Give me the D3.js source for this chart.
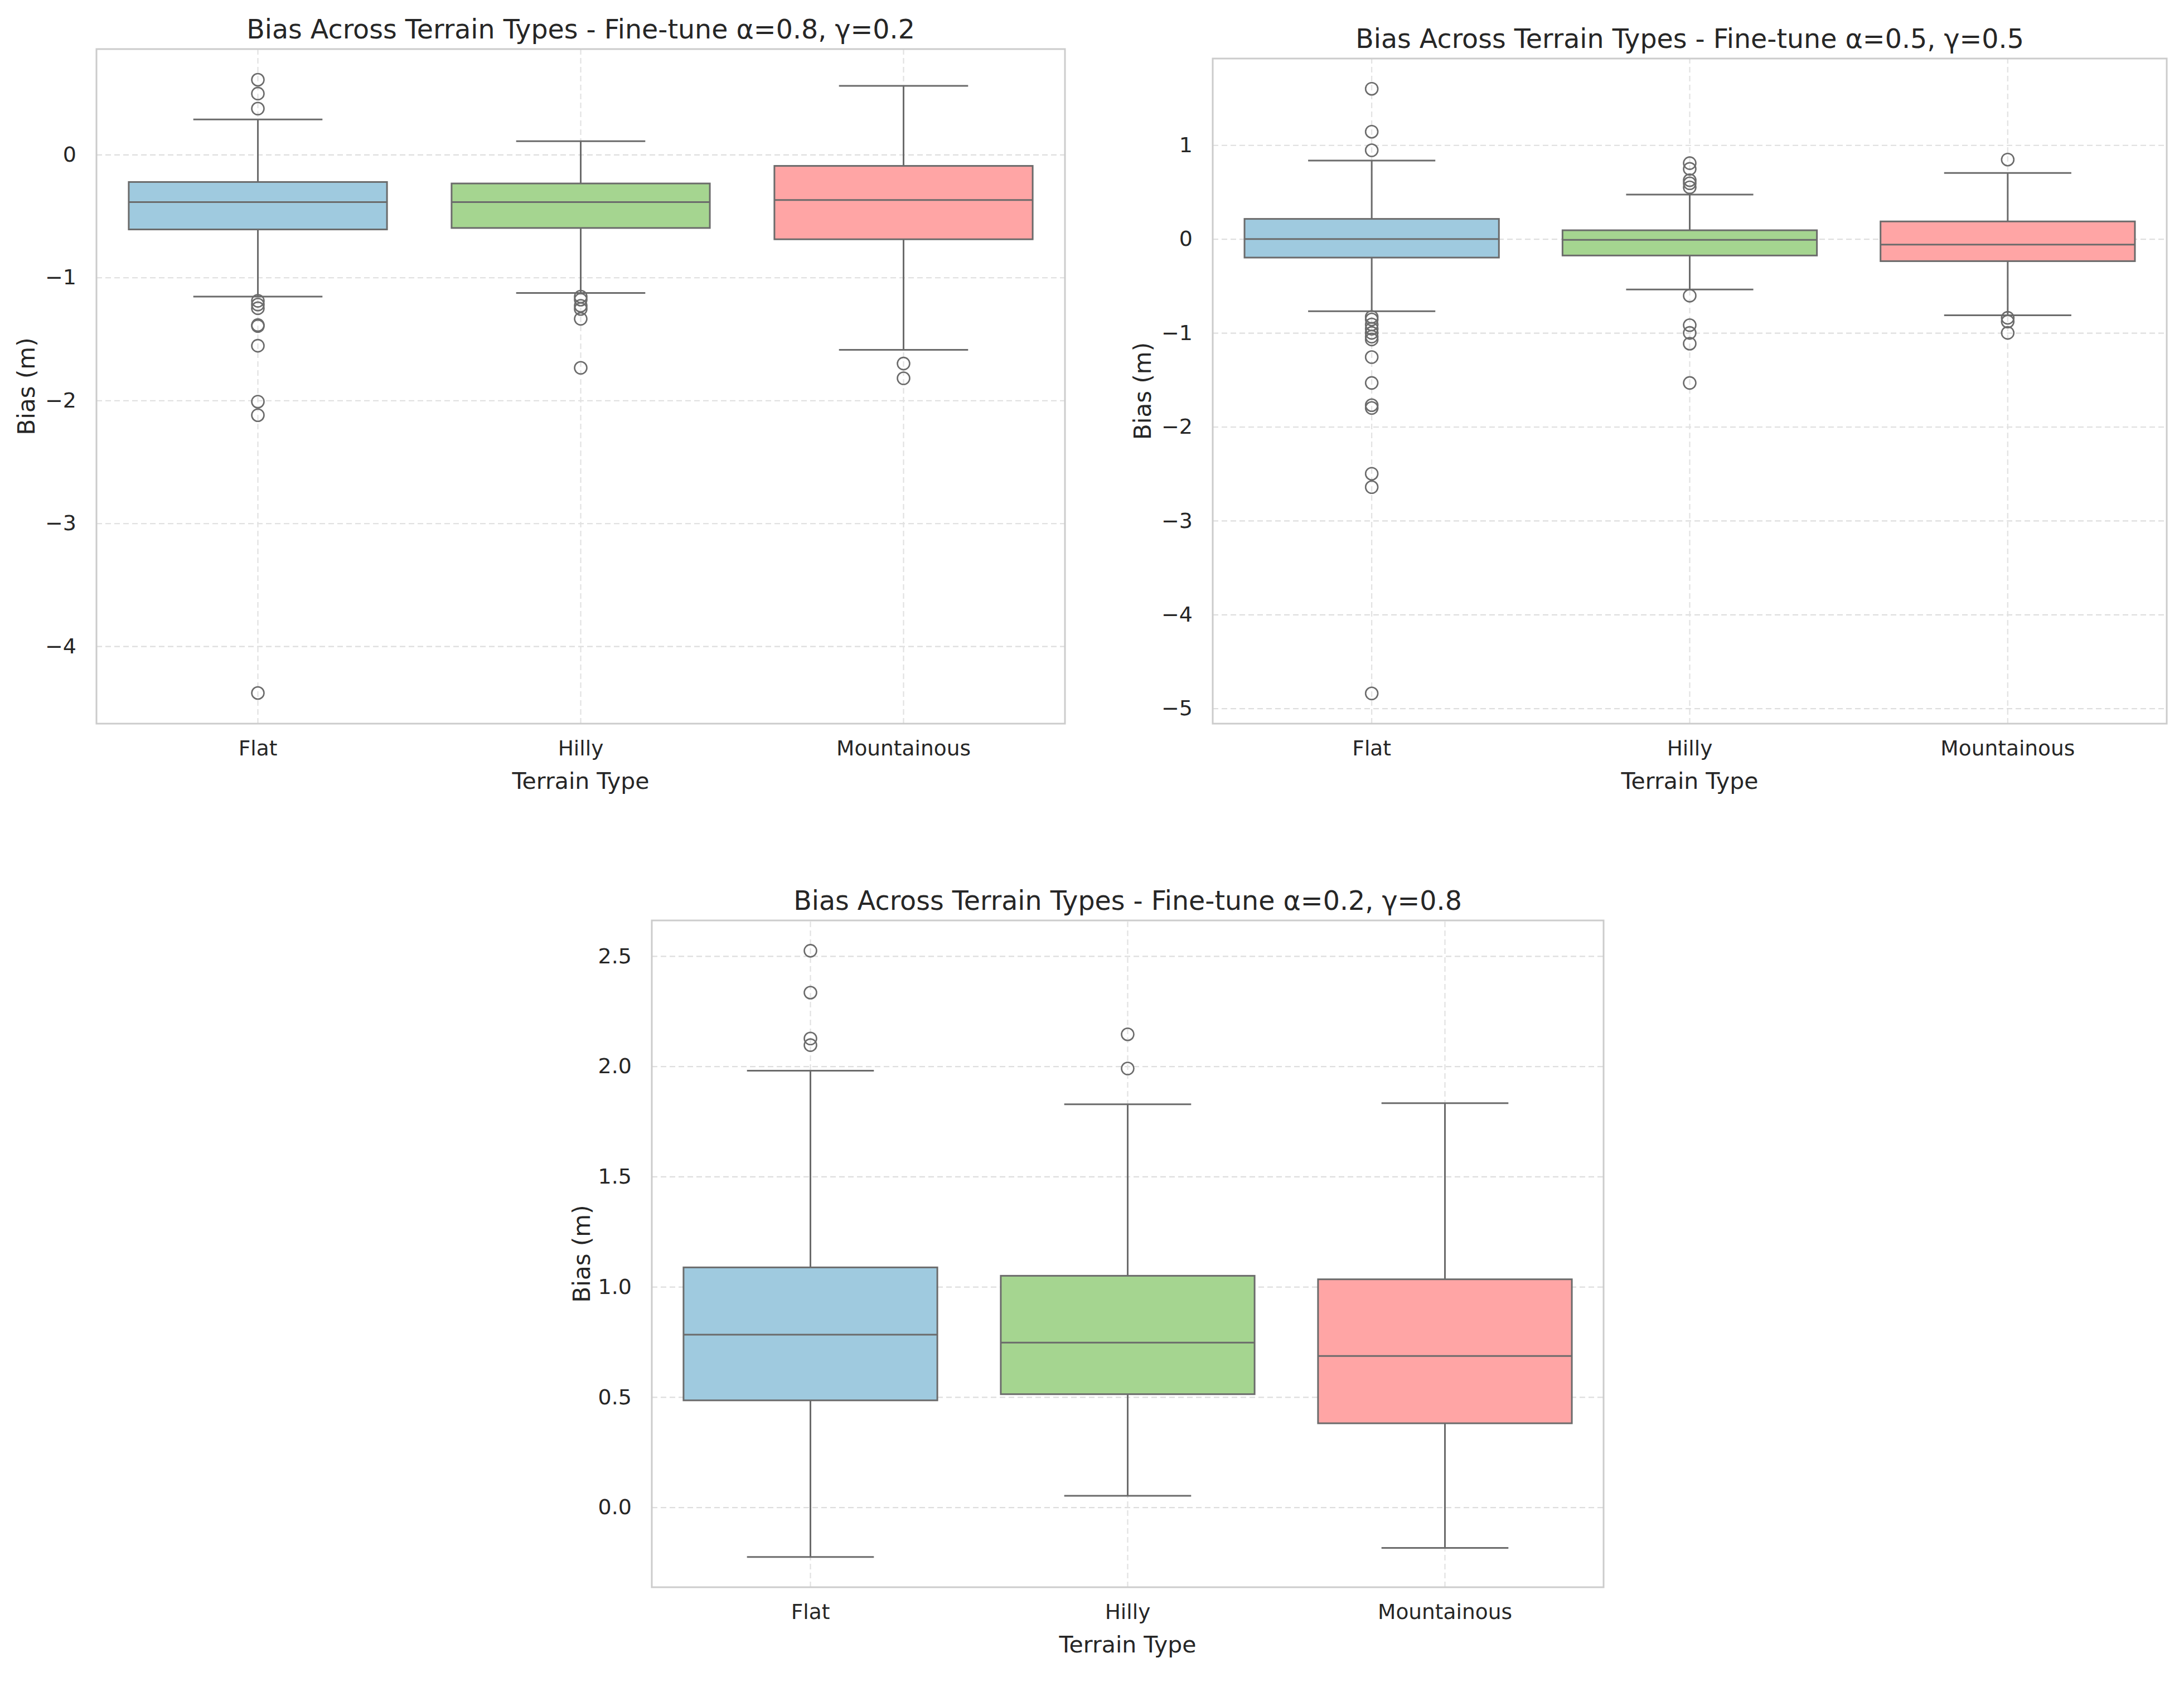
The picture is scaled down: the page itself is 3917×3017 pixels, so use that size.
<!DOCTYPE html>
<html lang="en">
<head>
  <meta charset="utf-8"/>
  <title>Bias Across Terrain Types</title>
  <script src="https://d3js.org/d3.v7.min.js"></script>
  <style>
    body { margin: 0; background: #fff; }
    text { font-family: "DejaVu Sans", sans-serif; fill: #262626; }
  </style>
</head>
<body>
<script>
// categories and colours
const terrains = ["Flat", "Hilly", "Mountainous"];
const boxColors = ["#9fcadf", "#a5d590", "#ffa5a5"];

// each row: [lower whisker, Q1, median, Q3, upper whisker]
// panel A : alpha=0.8, gamma=0.2
const boxA = [
  [-1.155, -0.609, -0.387, -0.223, 0.286],
  [-1.126, -0.597, -0.387, -0.235, 0.109],
  [-1.588, -0.689, -0.370, -0.092, 0.559]
];
const outA = [
  [0.609, 0.496, 0.374, -1.19, -1.22, -1.25, -1.387, -1.395, -1.555, -2.01, -2.12, -4.38],
  [-1.155, -1.18, -1.23, -1.256, -1.336, -1.735],
  [-1.70, -1.82]
];
const ticksA = [0, -1, -2, -3, -4];

// panel B : alpha=0.5, gamma=0.5
const boxB = [
  [-0.769, -0.198, 0.0, 0.214, 0.835],
  [-0.538, -0.176, -0.01, 0.093, 0.473],
  [-0.813, -0.236, -0.06, 0.187, 0.703]
];
const outB = [
  [1.60, 1.143, 0.945, -0.83, -0.857, -0.91, -0.956, -1.0, -1.04, -1.07, -1.258, -1.533, -1.77, -1.80, -2.5, -2.643, -4.84],
  [0.808, 0.747, 0.626, 0.593, 0.55, -0.604, -0.918, -1.0, -1.115, -1.533],
  [0.846, -0.84, -0.879, -1.0]
];
const ticksB = [1, 0, -1, -2, -3, -4, -5];

// panel C : alpha=0.2, gamma=0.8
const boxC = [
  [-0.225, 0.485, 0.783, 1.088, 1.98],
  [0.052, 0.513, 0.747, 1.05, 1.828],
  [-0.184, 0.381, 0.686, 1.034, 1.833]
];
const outC = [
  [2.524, 2.334, 2.126, 2.096],
  [2.145, 1.99],
  []
];
const ticksC = [0.0, 0.5, 1.0, 1.5, 2.0, 2.5];

const titles = [
  "Bias Across Terrain Types - Fine-tune α=0.8, γ=0.2",
  "Bias Across Terrain Types - Fine-tune α=0.5, γ=0.5",
  "Bias Across Terrain Types - Fine-tune α=0.2, γ=0.8"
];

const W = 3917, H = 3017;
const svg = d3.select("body").append("svg")
  .attr("width", W).attr("height", H)
  .style("display", "block");

const lineCol = "#6b6b6b";
const fmtInt = d => d3.format("d")(d).replace("-", "\u2212");
const fmt1 = d => d3.format(".1f")(d).replace("-", "\u2212");

function drawPanel(box, out, ticks, fmt, title, x0, y0, w, h) {
  const g = svg.append("g").attr("transform", "translate(" + x0 + "," + y0 + ")");

  // y limits like matplotlib: data range plus 5% each side
  const all = box.flat().concat(out.flat());
  const lo = d3.min(all), hi = d3.max(all), m = (hi - lo) * 0.05;
  const y = d3.scaleLinear().domain([lo - m, hi + m]).range([h, 0]);
  const x = d3.scaleBand().domain(terrains).range([0, w]).padding(0);
  const bw = x.bandwidth() * 0.8;
  const cx = d => x(d) + x.bandwidth() / 2;

  // grid
  g.append("g").attr("class", "grid")
    .call(d3.axisLeft(y).tickValues(ticks).tickSize(-w).tickFormat(""))
    .call(a => a.select(".domain").remove())
    .selectAll("line").attr("stroke", "#dedede").attr("stroke-width", 2.2)
    .attr("stroke-dasharray", "10,6");
  g.append("g").attr("class", "grid")
    .attr("transform", "translate(0," + h + ")")
    .call(d3.axisBottom(x).tickSize(-h).tickFormat(""))
    .call(a => a.select(".domain").remove())
    .selectAll("line").attr("stroke", "#e2e2e2").attr("stroke-width", 2.2)
    .attr("stroke-dasharray", "10,6");

  const b = g.selectAll("g.box").data(terrains).enter().append("g").attr("class", "box");

  // whiskers
  b.append("line")
    .attr("x1", d => cx(d)).attr("x2", d => cx(d))
    .attr("y1", (d, i) => y(box[i][0])).attr("y2", (d, i) => y(box[i][1]))
    .attr("stroke", lineCol).attr("stroke-width", 3);
  b.append("line")
    .attr("x1", d => cx(d)).attr("x2", d => cx(d))
    .attr("y1", (d, i) => y(box[i][3])).attr("y2", (d, i) => y(box[i][4]))
    .attr("stroke", lineCol).attr("stroke-width", 3);
  // caps
  [0, 4].forEach(k => {
    b.append("line")
      .attr("x1", d => cx(d) - bw / 4).attr("x2", d => cx(d) + bw / 4)
      .attr("y1", (d, i) => y(box[i][k])).attr("y2", (d, i) => y(box[i][k]))
      .attr("stroke", lineCol).attr("stroke-width", 3);
  });
  // box
  b.append("rect")
    .attr("x", d => cx(d) - bw / 2).attr("width", bw)
    .attr("y", (d, i) => y(box[i][3]))
    .attr("height", (d, i) => y(box[i][1]) - y(box[i][3]))
    .attr("fill", (d, i) => boxColors[i])
    .attr("stroke", lineCol).attr("stroke-width", 3);
  // median
  b.append("line")
    .attr("x1", d => cx(d) - bw / 2).attr("x2", d => cx(d) + bw / 2)
    .attr("y1", (d, i) => y(box[i][2])).attr("y2", (d, i) => y(box[i][2]))
    .attr("stroke", lineCol).attr("stroke-width", 3);
  // outliers
  b.each(function(d, i) {
    d3.select(this).selectAll("circle").data(out[i]).enter().append("circle")
      .attr("cx", cx(d)).attr("cy", v => y(v)).attr("r", 11)
      .attr("fill", "none").attr("stroke", lineCol).attr("stroke-width", 2.6);
  });

  // frame
  g.append("rect").attr("width", w).attr("height", h)
    .attr("fill", "none").attr("stroke", "#cccccc").attr("stroke-width", 3);

  // axes labels
  const ya = g.append("g")
    .call(d3.axisLeft(y).tickValues(ticks).tickSize(0).tickPadding(36).tickFormat(fmt));
  ya.select(".domain").remove();
  ya.selectAll("text").style("font-size", "38px").attr("fill", "#262626")
    .style("font-family", "DejaVu Sans, sans-serif");

  const xa = g.append("g").attr("transform", "translate(0," + h + ")")
    .call(d3.axisBottom(x).tickSize(0).tickPadding(30));
  xa.select(".domain").remove();
  xa.selectAll("text").style("font-size", "37.5px").attr("fill", "#262626")
    .style("font-family", "DejaVu Sans, sans-serif");

  g.append("text").attr("x", w / 2).attr("y", h + 117)
    .attr("text-anchor", "middle").style("font-size", "41px").text("Terrain Type");
  g.append("text")
    .attr("transform", "translate(-111," + (h / 2) + ") rotate(-90)")
    .attr("text-anchor", "middle").style("font-size", "42px").text("Bias (m)");
  g.append("text").attr("x", w / 2).attr("y", -19)
    .attr("text-anchor", "middle").style("font-size", "47.5px").text(title);
}

drawPanel(boxA, outA, ticksA, fmtInt, titles[0], 173, 88, 1737, 1210);
drawPanel(boxB, outB, ticksB, fmtInt, titles[1], 2175, 105, 1711, 1193);
drawPanel(boxC, outC, ticksC, fmt1, titles[2], 1169, 1651, 1707, 1196);
</script>
</body>
</html>
